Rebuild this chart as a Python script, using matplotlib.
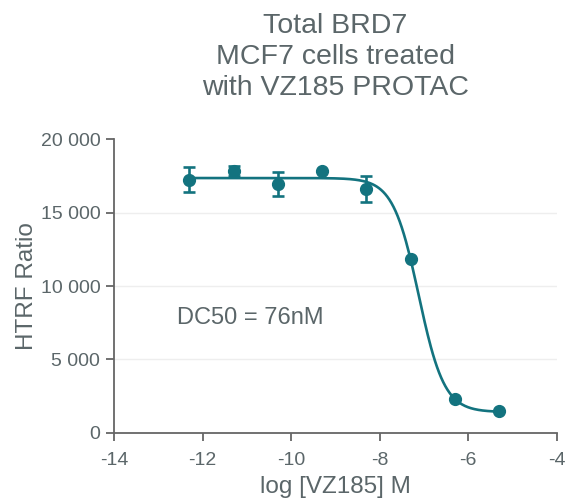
import matplotlib
matplotlib.use("Agg")
from matplotlib import pyplot as plt
from matplotlib.ticker import FuncFormatter
import numpy as np

# measured points
log_conc = np.array([-12.3, -11.3, -10.3, -9.3, -8.3, -7.3, -6.3, -5.3])
ratio = np.array([17250, 17850, 16950, 17850, 16600, 11850, 2300, 1500])
err = np.array([850, 350, 800, 0, 900, 0, 0, 0])

# 4PL fit parameters
TOP = 17350
BOTTOM = 1420
LOG_DC50 = -7.12
HILL = 1.5

COLOR = '#13737f'
TEXT = '#5b6669'

plt.rcParams['font.family'] = ['Liberation Sans', 'DejaVu Sans']

fig = plt.figure(figsize=(5.71, 5.04), dpi=100)
ax = fig.add_axes([0.2, 0.141, 0.775, 0.583])

xs = np.linspace(log_conc[0], log_conc[-1], 300)
fit = BOTTOM + (TOP - BOTTOM) / (1 + 10 ** ((xs - LOG_DC50) * HILL))
ax.plot(xs, fit, color=COLOR, lw=1.9, zorder=3)
has_err = err > 0
ax.errorbar(log_conc[has_err], ratio[has_err], yerr=err[has_err], fmt='none',
            ecolor=COLOR, elinewidth=1.9, capsize=4.5, capthick=1.9, zorder=4)
ax.plot(log_conc, ratio, 'o', color=COLOR, ms=8.5, zorder=5)

ax.set_xlim(-14, -4)
ax.set_ylim(0, 20000)
ax.set_xticks(range(-14, -3, 2))
ax.set_yticks(range(0, 20001, 5000))
ax.yaxis.set_major_formatter(FuncFormatter(lambda v, p: f'{int(v):,}'.replace(',', ' ')))
ax.xaxis.set_major_formatter(FuncFormatter(lambda v, p: f'{int(v)}'))

for y in [5000, 10000, 15000]:
    ax.axhline(y, color='#eeeeee', lw=1, zorder=0)

for s in ['top', 'right']:
    ax.spines[s].set_visible(False)
for s in ['left', 'bottom']:
    ax.spines[s].set_color('#666666')
    ax.spines[s].set_linewidth(1.3)
ax.tick_params(colors='#666666', labelcolor=TEXT, labelsize=14, length=6, width=1.3, pad=4)
ax.tick_params(axis='x', pad=8)

ax.set_ylabel('HTRF Ratio', fontsize=17.5, color=TEXT, labelpad=2)
ax.set_xlabel('log [VZ185] M', fontsize=17.5, color=TEXT, labelpad=5)
ax.set_title('Total BRD7\nMCF7 cells treated\nwith VZ185 PROTAC', fontsize=20.5,
             color=TEXT, pad=32, linespacing=1.25)
ax.text(-12.58, 7800, 'DC50 = 76nM', fontsize=17, color=TEXT, va='center')

fig.savefig('out.png', dpi=100)
